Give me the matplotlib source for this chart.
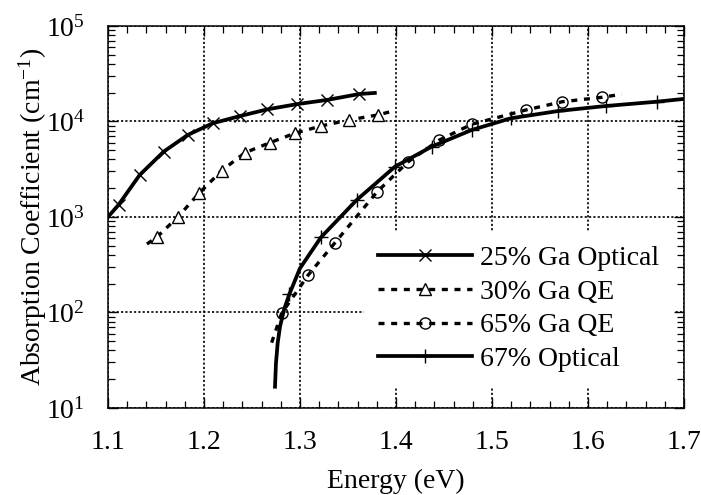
import matplotlib
matplotlib.use("Agg")
import matplotlib.pyplot as plt
from matplotlib.ticker import MultipleLocator, LogLocator, NullFormatter

plt.rcParams['font.family'] = 'serif'
plt.rcParams['font.serif'] = ['Liberation Serif', 'DejaVu Serif']
plt.rcParams['mathtext.fontset'] = 'custom'
plt.rcParams['mathtext.rm'] = 'Liberation Serif'
plt.rcParams['mathtext.it'] = 'Liberation Serif:italic'
plt.rcParams['font.size'] = 20

# 25% Ga, optical absorption (solid, x markers)
e_25 = [1.100, 1.111, 1.133, 1.158, 1.183, 1.209, 1.2375, 1.266, 1.297, 1.328, 1.362, 1.378]
a_25 = [1000, 1340, 2750, 4830, 7220, 9570, 11400, 13400, 15200, 16800, 19400, 19900]
mk_25 = list(range(1, 11))

# 30% Ga, from QE (dashed, triangles)
e_30 = [1.1406, 1.1507, 1.1726, 1.1948, 1.2184, 1.2427, 1.2688, 1.2945, 1.3219, 1.3510, 1.3809, 1.3972]
a_30 = [521, 613, 993, 1770, 3055, 4710, 6000, 7520, 8970, 10370, 11700, 12880]
mk_30 = list(range(1, 11))

# 65% Ga, from QE (dashed, circles)
e_65 = [1.2705, 1.2809, 1.3086, 1.3365, 1.3805, 1.4128, 1.4453, 1.4789, 1.5354, 1.5732, 1.6143, 1.6351]
a_65 = [48.3, 98, 247, 538, 1841, 3794, 6400, 9350, 13200, 16100, 17900, 19280]
mk_65 = list(range(1, 11))

# 67% optical absorption (solid, + markers)
e_67 = [1.2740, 1.2750, 1.2768, 1.2792, 1.2835, 1.2889, 1.3000, 1.3219, 1.3591, 1.3990,
        1.4372, 1.4789, 1.5198, 1.5691, 1.6184, 1.6716, 1.6990]
a_67 = [16.7, 29.4, 48, 71, 108, 155, 290, 613, 1507, 3365,
        5450, 8150, 10810, 12880, 14520, 16110, 17200]
mk_67 = [5, 7, 8, 9, 10, 11, 12, 13, 14, 15]

fig = plt.figure(figsize=(7.01, 4.95), dpi=100)
ax = fig.add_axes([0.154, 0.1758, 0.8217, 0.7717])

dash = (0, (1.8, 2.0))
ax.plot(e_25, a_25, color='black', lw=2.7, marker='x', ms=8, mew=1.0,
        markevery=mk_25, label='25% Ga Optical', zorder=3)
ax.plot(e_30, a_30, color='black', lw=2.4, ls=dash, marker='^', ms=9, mew=1.0,
        mfc='white', markevery=mk_30, label='30% Ga QE', zorder=3)
ax.plot(e_65, a_65, color='black', lw=2.4, ls=dash, marker='o', ms=8, mew=1.0,
        mfc='none', markevery=mk_65, label='65% Ga QE', zorder=3)
ax.plot(e_67, a_67, color='black', lw=2.7, marker='+', ms=10, mew=1.0,
        markevery=mk_67, label='67% Optical', zorder=3)

ax.set_yscale('log')
ax.set_xlim(1.1, 1.7)
ax.set_ylim(10, 1e5)

ax.xaxis.set_major_locator(MultipleLocator(0.1))
ax.xaxis.set_minor_locator(MultipleLocator(0.02))
ax.yaxis.set_major_locator(LogLocator(base=10))
ax.yaxis.set_minor_locator(LogLocator(base=10, subs=range(2, 10)))
ax.yaxis.set_minor_formatter(NullFormatter())
ax.set_xticks([1.1, 1.2, 1.3, 1.4, 1.5, 1.6, 1.7])
ax.set_xticklabels(['1.1', '1.2', '1.3', '1.4', '1.5', '1.6', '1.7'])

ax.tick_params(which='both', direction='in', top=True, right=True, color='black')
ax.tick_params(which='major', length=7, width=1.0)
ax.tick_params(which='minor', length=5, width=0.9)
ax.tick_params(axis='x', which='major', pad=16)
ax.tick_params(axis='y', which='major', pad=16.5)

for s in ax.spines.values():
    s.set_linewidth(1.1)
    s.set_color('black')

ax.grid(True, which='major', color='black', ls=(0, (1.3, 1.3)), lw=1.2)
ax.set_axisbelow(True)

ax.set_xlabel('Energy (eV)', labelpad=10)
ax.set_ylabel('Absorption Coefficient (cm$^{\\mathregular{-1}}$)')
ax.yaxis.set_label_coords(-0.102, 0.5)

leg = ax.legend(loc='upper left', bbox_to_anchor=(0.444, 0.462), numpoints=1,
                handlelength=3.4, handletextpad=0.3, labelspacing=0.3,
                borderpad=0.5, borderaxespad=0.0, frameon=True, fancybox=False,
                framealpha=1.0, facecolor='white', edgecolor='white')
leg.set_zorder(5)

fig.savefig('out.png', dpi=100)
